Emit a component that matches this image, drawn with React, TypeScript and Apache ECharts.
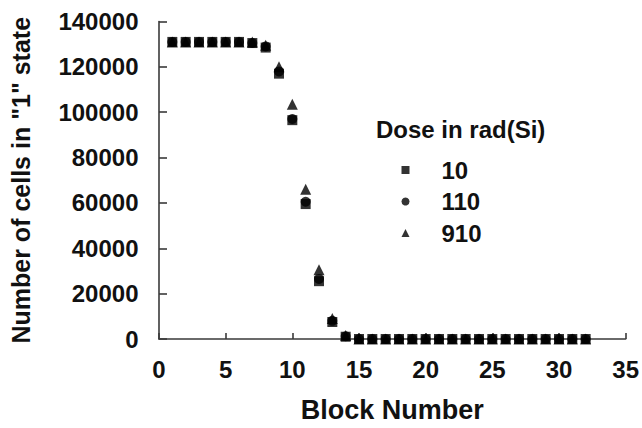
import React, { useEffect, useRef } from "react";
import * as echarts from "echarts";

const blocks = [1, 2, 3, 4, 5, 6, 7, 8, 9, 10, 11, 12, 13, 14, 15, 16, 17, 18, 19, 20, 21, 22, 23, 24, 25, 26, 27, 28, 29, 30, 31, 32];
const dose10 = [131000, 131000, 131000, 131000, 131000, 131000, 130500, 128500, 117000, 96500, 59500, 25500, 7500, 1000, 0, 0, 0, 0, 0, 0, 0, 0, 0, 0, 0, 0, 0, 0, 0, 0, 0, 0];
const dose110 = [131000, 131000, 131000, 131000, 131000, 131000, 130500, 129000, 118000, 97000, 60500, 26500, 8000, 1200, 0, 0, 0, 0, 0, 0, 0, 0, 0, 0, 0, 0, 0, 0, 0, 0, 0, 0];
const dose910 = [131000, 131000, 131000, 131000, 131000, 131000, 131000, 129500, 120000, 103500, 66000, 30500, 9000, 1500, 0, 0, 0, 0, 0, 0, 0, 0, 0, 0, 0, 0, 0, 0, 0, 0, 0, 0];
const seriesNames = ["10", "110", "910"];
const legendTitle = "Dose in rad(Si)";
const xTitle = "Block Number";
const yTitle = 'Number of cells in "1" state';

const FONT = "'Liberation Sans', Arial, sans-serif";

export default function App() {
  const ref = useRef<HTMLDivElement>(null);
  useEffect(() => {
    if (!ref.current) return;
    const chart = echarts.init(ref.current, undefined, { renderer: "svg" });
    const pair = (ys: number[]) => blocks.map((b, i) => [b, ys[i]]);
    const axisColor = "#3a3a3a";
    chart.setOption({
      animation: false,
      backgroundColor: "#ffffff",
      grid: { left: 158.5, top: 21.5, right: 15.5, bottom: 88.5, containLabel: false },
      xAxis: {
        type: "value",
        min: 0,
        max: 35,
        interval: 5,
        name: xTitle,
        nameLocation: "middle",
        nameGap: 57,
        nameTextStyle: { fontFamily: FONT, fontWeight: "bold", fontSize: 27, color: "#111" },
        axisLine: { lineStyle: { color: axisColor, width: 1.6 } },
        axisTick: { inside: true, length: 6, lineStyle: { color: axisColor, width: 1.6 } },
        axisLabel: { fontFamily: FONT, fontWeight: "bold", fontSize: 24, color: "#111", margin: 18 },
        splitLine: { show: false },
      },
      yAxis: {
        type: "value",
        min: 0,
        max: 140000,
        interval: 20000,
        name: yTitle,
        nameLocation: "middle",
        nameGap: 126,
        nameTextStyle: { fontFamily: FONT, fontWeight: "bold", fontSize: 25, color: "#111" },
        axisLine: { show: true, lineStyle: { color: axisColor, width: 1.6 } },
        axisTick: { show: true, inside: true, length: 8, lineStyle: { color: axisColor, width: 1.6 } },
        axisLabel: {
          fontFamily: FONT,
          fontWeight: "bold",
          fontSize: 24,
          color: "#111",
          margin: 20.5,
          formatter: (v: number) => String(v),
        },
        splitLine: { show: false },
      },
      legend: {
        orient: "vertical",
        left: 396.5,
        top: 153,
        itemWidth: 8,
        itemHeight: 8,
        itemGap: 7.5,
        data: [
          { name: seriesNames[0], icon: "rect" },
          { name: seriesNames[1], icon: "circle" },
          { name: seriesNames[2], icon: "triangle" },
        ],
        textStyle: { fontFamily: FONT, fontWeight: "bold", fontSize: 24, color: "#111", padding: [0, 0, 0, 27], lineHeight: 24 },
      },
      graphic: [
        {
          type: "text",
          left: 376,
          top: 117,
          style: { text: legendTitle, fontFamily: FONT, fontWeight: "bold", fontSize: 24, fill: "#111" },
        },
      ],
      series: [
        { name: seriesNames[0], type: "scatter", symbol: "rect", symbolSize: 10, itemStyle: { color: "#000" }, data: pair(dose10) },
        { name: seriesNames[1], type: "scatter", symbol: "circle", symbolSize: 10, itemStyle: { color: "#000" }, data: pair(dose110) },
        { name: seriesNames[2], type: "scatter", symbol: "triangle", symbolSize: 11, itemStyle: { color: "#000" }, data: pair(dose910) },
      ],
    });
    return () => chart.dispose();
  }, []);
  return <div ref={ref} style={{ width: 642, height: 428, position: "absolute", left: 0, top: 0 }} />;
}
